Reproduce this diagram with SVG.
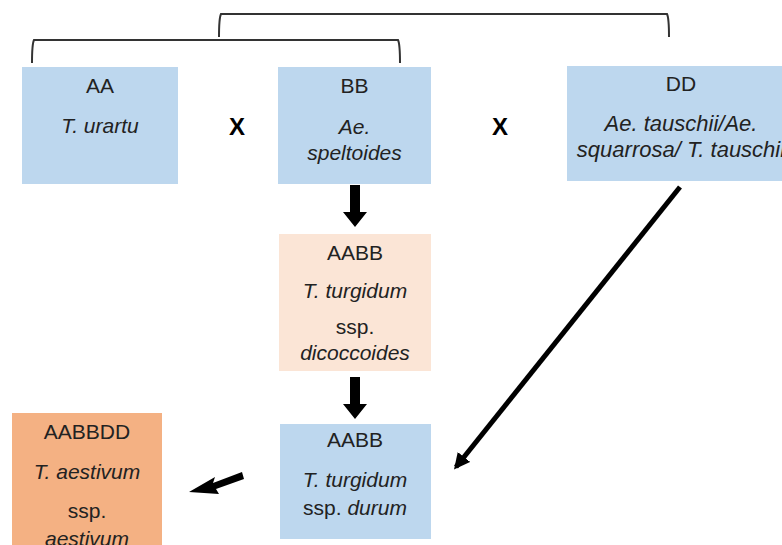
<svg xmlns="http://www.w3.org/2000/svg" width="782" height="545" viewBox="0 0 782 545">
<style>
  .t { font-family: "Liberation Sans", Arial, sans-serif; font-size: 21px; fill: #222; text-anchor: middle; }
  .i { font-style: italic; }
  .big { font-size: 22px; }
  .x { font-family: "Liberation Sans", Arial, sans-serif; font-size: 24px; font-weight: bold; fill: #000; text-anchor: middle; }
  .br { fill: none; stroke: #333; stroke-width: 2; }
  .blue { fill: #BDD7EE; }
  .peach { fill: #FBE5D6; }
  .orange { fill: #F4B183; }
</style>
<defs>
  <marker id="ah" viewBox="0 0 10 10" refX="8" refY="5" markerWidth="3.2" markerHeight="3.2" orient="auto" markerUnits="strokeWidth">
    <path d="M0,0 L10,5 L0,10 Z" fill="#000"/>
  </marker>
</defs>
<rect width="782" height="545" fill="#fff"/>
<g id="brackets">
  <path class="br" d="M32,63 C32,50 32,44 34,40 L398,40 C400,44 400,50 400,63"/>
  <path class="br" d="M219,37 C219,24 219,18 221,14 L667,14 C669,18 669,24 669,37"/>
</g>
<g id="node-AA">
  <rect class="blue" x="22" y="67" width="156" height="117"/>
  <text class="t" x="100" y="93">AA</text>
  <text class="t i" x="100" y="133">T. urartu</text>
</g>
<g id="node-BB">
  <rect class="blue" x="278" y="67" width="153" height="117"/>
  <text class="t" x="354.5" y="93">BB</text>
  <text class="t i" x="354.5" y="134">Ae.</text>
  <text class="t i" x="354.5" y="160">speltoides</text>
</g>
<g id="node-DD">
  <rect class="blue" x="567" y="66" width="230" height="115"/>
  <text class="t" x="681" y="91">DD</text>
  <text class="t i big" x="681" y="131">Ae. tauschii/Ae.</text>
  <text class="t i big" x="681" y="157">squarrosa/ T. tauschii</text>
</g>
<g id="cross-marks">
  <text class="x" x="237" y="135">X</text>
  <text class="x" x="500" y="135">X</text>
</g>
<g id="node-AABB-dicoccoides">
  <rect class="peach" x="279" y="234" width="152" height="137"/>
  <text class="t" x="355" y="260">AABB</text>
  <text class="t i" x="355" y="298">T. turgidum</text>
  <text class="t" x="355" y="334">ssp.</text>
  <text class="t i" x="355" y="360">dicoccoides</text>
</g>
<g id="node-AABB-durum">
  <rect class="blue" x="280" y="424" width="151" height="115"/>
  <text class="t" x="355" y="447">AABB</text>
  <text class="t i" x="355" y="487">T. turgidum</text>
  <text class="t" x="355" y="515">ssp. <tspan class="i">durum</tspan></text>
</g>
<g id="node-AABBDD">
  <rect class="orange" x="12" y="413" width="150" height="140"/>
  <text class="t" x="87" y="439">AABBDD</text>
  <text class="t i" x="87" y="479">T. aestivum</text>
  <text class="t" x="87" y="518">ssp.</text>
  <text class="t i" x="87" y="546">aestivum</text>
</g>
<g id="connectors">
  <path d="M350,185 L360,185 L360,212 L367,212 L355,227 L343,212 L350,212 Z" fill="#000"/>
  <path d="M350,377 L360,377 L360,404 L367,404 L355,419 L343,404 L350,404 Z" fill="#000"/>
  <path d="M242,472 L213,483 L215,477 L189,492 L219,494 L216,489 L244,479 Z" fill="#000"/>
  <line x1="680" y1="187" x2="456" y2="467" stroke="#000" stroke-width="5" marker-end="url(#ah)"/>
</g>
</svg>
